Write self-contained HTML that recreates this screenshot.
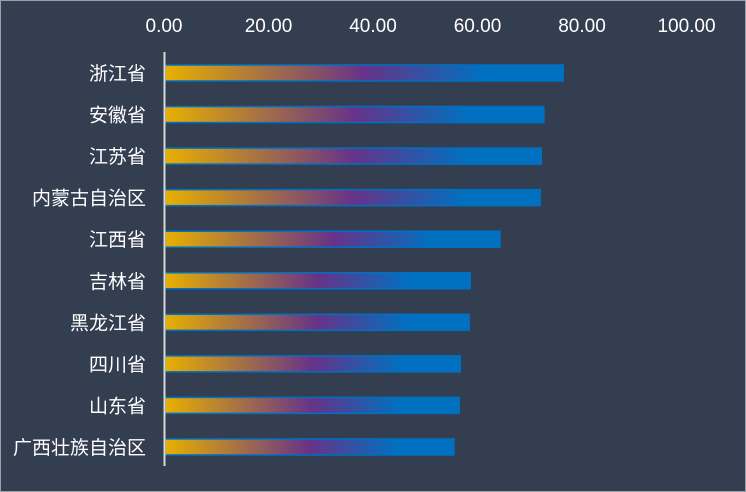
<!DOCTYPE html>
<html><head><meta charset="utf-8"><style>
html,body{margin:0;padding:0;background:#343e51;}
svg{display:block;font-family:"Liberation Sans","Noto Sans CJK SC",sans-serif;}
</style></head><body>
<svg width="746" height="492">
<defs>
<linearGradient id="g" x1="0" x2="1" y1="0" y2="0">
<stop offset="0" stop-color="#e8b000"/>
<stop offset="0.5" stop-color="#663388"/>
<stop offset="0.8" stop-color="#0070c0"/>
<stop offset="1" stop-color="#0070c0"/>
</linearGradient>
</defs>
<rect x="0.5" y="0.5" width="745" height="491" fill="#343e51" stroke="#9aa0aa" stroke-width="1"/>
<g id="xticks"></g>
<g id="bars"></g>
<line x1="164.5" y1="52" x2="164.5" y2="466" stroke="#d8d8d8" stroke-width="2"/>
</svg>
<script>
const categories=["浙江省","安徽省","江苏省","内蒙古自治区","江西省","吉林省","黑龙江省","四川省","山东省","广西壮族自治区"];
const values=[76.4,72.7,72.2,72.0,64.3,58.6,58.4,56.7,56.5,55.5];
const tickValues=[0,20,40,60,80,100];
const tickLabels=["0.00","20.00","40.00","60.00","80.00","100.00"];
const NS="http://www.w3.org/2000/svg";
const x=v=>164+v*5.225;
const y=i=>73+i*41.55;
const xt=document.getElementById('xticks'),bg=document.getElementById('bars');
tickValues.forEach((v,i)=>{
const t=document.createElementNS(NS,'text');


t.setAttribute('x',x(v));t.setAttribute('y',32);t.setAttribute('text-anchor','middle');
t.setAttribute('fill','#ffffff');t.setAttribute('font-size','19');
t.textContent=tickLabels[i];xt.appendChild(t);
});
categories.forEach((c,i)=>{
const cy=y(i);
const r=document.createElementNS(NS,'rect');


r.setAttribute('x',165);r.setAttribute('y',cy-8);r.setAttribute('width',Math.max(0,x(values[i])-165));r.setAttribute('height',16);
r.setAttribute('fill','url(#g)');r.setAttribute('stroke','#0070c0');r.setAttribute('stroke-width','1.5');
bg.appendChild(r);
const t=document.createElementNS(NS,'text');


t.setAttribute('x',146);t.setAttribute('y',cy+7);t.setAttribute('text-anchor','end');
t.setAttribute('fill','#ffffff');t.setAttribute('font-size','19');
t.textContent=c;bg.appendChild(t);
});
</script>
</body></html>
